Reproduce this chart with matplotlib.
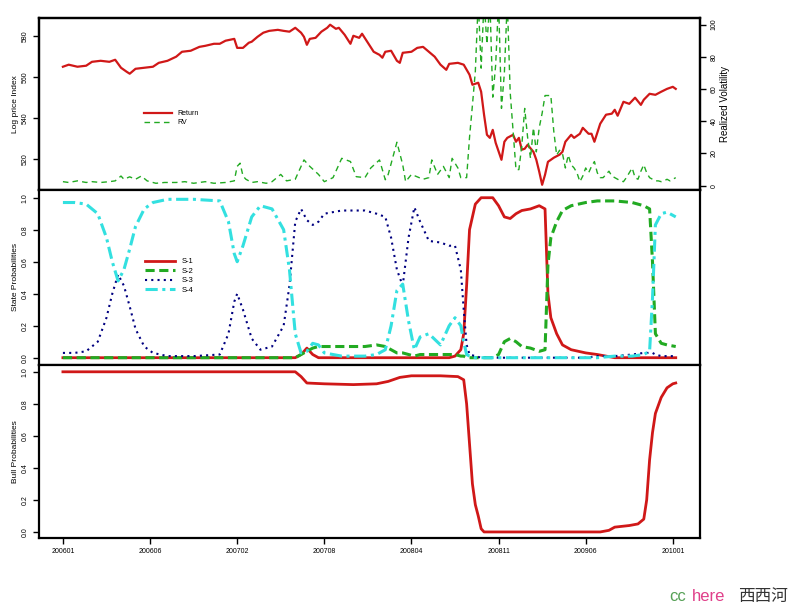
import numpy as np
import matplotlib.pyplot as plt

plt.rcParams['font.family'] = ['Liberation Sans', 'DejaVu Sans']

## DATA (weekly index, 200601 .. 201001)
ret_wk = [0, 2, 5, 8, 10, 13, 16, 18, 20, 22, 23, 25, 28, 31, 33, 36, 39, 41, 44, 47,
          49, 52, 54, 56, 59, 60, 62, 64, 65, 67, 69, 71, 74, 76, 78, 80, 82, 83, 84, 85,
          87, 89, 91, 92, 94, 95, 97, 99, 100, 102, 103, 105, 107, 109, 110, 111, 113, 115, 116, 117,
          120, 122, 124, 126, 128, 130, 132, 133, 136, 138, 140, 141, 143, 144, 145, 146, 147, 148, 149, 151,
          152, 153, 155, 156, 157, 158, 159, 160, 162, 163, 164, 165, 166, 167, 169, 171, 172, 173, 175, 176,
          178, 179, 181, 182, 183, 185, 187, 189, 190, 191, 193, 195, 197, 199, 200, 202, 204, 206, 208, 210, 211]
ret_val = [564.9, 565.9, 564.9, 565.4, 567.3, 567.8, 567.3, 568.3, 564.4, 562.4, 561.5, 563.9, 564.4, 564.9, 566.8, 567.8, 569.8, 572.2, 572.7, 574.6,
           575.1, 576.1, 576.1, 577.6, 578.5, 574.1, 574.1, 576.6, 577.1, 579.5, 581.5, 582.4, 582.9, 582.4, 582.0, 583.9, 581.5, 579.5, 575.6, 578.5,
           579.0, 582.0, 583.9, 585.4, 583.4, 583.9, 580.5, 576.1, 580.0, 579.0, 581.0, 576.6, 572.2, 570.7, 569.3, 572.2, 572.7, 567.8, 566.8, 571.7,
           572.2, 574.1, 574.6, 572.2, 569.8, 565.9, 563.4, 566.3, 566.8, 565.9, 561.0, 556.1, 557.1, 552.7, 541.5, 531.7, 530.2, 534.1, 527.8, 519.5,
           528.3, 530.2, 531.7, 528.3, 530.2, 524.4, 524.9, 526.8, 523.4, 519.5, 513.7, 507.3, 512.2, 518.5, 520.5, 522.0, 523.4, 528.3, 531.7, 530.2,
           532.2, 535.1, 532.2, 532.2, 528.3, 537.1, 541.5, 542.0, 543.9, 541.0, 547.8, 546.8, 549.8, 546.3, 548.8, 551.7, 551.2, 552.7, 554.1, 555.1, 554.1]

rv_wk = [0, 2, 5, 8, 10, 13, 16, 18, 20, 21, 23, 25, 27, 29, 32, 35, 39, 42, 45, 49,
         52, 56, 59, 60, 61, 62, 63, 65, 67, 70, 72, 75, 77, 80, 83, 85, 88, 90, 93, 96,
         99, 101, 104, 106, 109, 111, 112, 115, 117, 118, 120, 124, 126, 127, 129, 131, 133, 134, 136, 137,
         139, 140, 141, 142, 143, 144, 145, 146, 147, 148, 149, 150, 151, 152, 153, 154, 155, 156, 157, 158,
         159, 160, 161, 162, 163, 164, 165, 166, 167, 168, 169, 170, 171, 172, 173, 174, 175, 176, 177, 178,
         179, 180, 181, 182, 183, 184, 185, 186, 187, 188, 189, 190, 191, 192, 193, 194, 195, 196, 197, 198,
         199, 200, 201, 202, 203, 204, 205, 206, 207, 208, 209, 210, 211]
rv_val = [2.5, 2, 3, 2, 2.5, 2, 2.5, 3, 6, 4, 5.5, 4, 6, 3, 1.5, 2, 2, 2.5, 1.5, 2.5,
          1.5, 2, 3, 12, 14, 6, 4, 2, 2.5, 1.5, 2.5, 7, 3, 4, 16, 12, 7, 2.5, 5, 17,
          15, 5.6, 5, 11, 16, 3.7, 7, 27, 13, 2.5, 7, 4, 5, 16, 7, 12, 5, 17, 11, 5,
          5, 30, 50, 71, 115, 73, 115, 88, 115, 55, 75, 115, 48, 70, 115, 58, 34, 10, 10, 25,
          48, 30, 17, 36, 21, 36, 45, 56, 56, 56, 34, 19, 22, 20, 11, 19, 13, 11, 8, 2.5,
          6, 11, 8, 12, 15, 8, 5, 5, 7, 9, 6, 5, 4, 3, 2.5, 5, 8, 11, 5, 4,
          9, 13, 8, 5, 4, 3, 3, 2.5, 3, 4, 3, 4, 5]

st_wk = [0, 4, 8, 12, 15, 17, 19, 21, 23, 25, 28, 31, 36, 45, 54, 57, 59, 60, 62, 65,
         68, 72, 76, 78, 80, 82, 84, 86, 88, 90, 96, 104, 108, 111, 113, 115, 117, 119, 121, 123,
         126, 130, 133, 135, 137, 138, 139, 140, 142, 144, 148, 150, 152, 154, 156, 158, 161, 164, 166, 167,
         168, 170, 172, 175, 180, 184, 190, 196, 200, 202, 203, 204, 206, 208, 211]
s1 = [0, 0, 0, 0, 0, 0, 0, 0, 0, 0, 0, 0, 0, 0, 0, 0, 0, 0, 0, 0,
      0, 0, 0, 0, 0, 0.02, 0.06, 0.02, 0, 0, 0, 0, 0, 0, 0, 0, 0, 0, 0, 0,
      0, 0, 0, 0.01, 0.05, 0.15, 0.45, 0.80, 0.96, 1.0, 1.0, 0.95, 0.88, 0.87, 0.90, 0.92, 0.93, 0.95, 0.93, 0.40,
      0.25, 0.15, 0.08, 0.05, 0.03, 0.02, 0, 0, 0, 0, 0, 0, 0, 0, 0]
s2 = [0, 0, 0, 0, 0, 0, 0, 0, 0, 0, 0, 0, 0, 0, 0, 0, 0, 0, 0, 0,
      0, 0, 0, 0, 0, 0.02, 0.04, 0.06, 0.07, 0.07, 0.07, 0.07, 0.08, 0.07, 0.05, 0.03, 0.03, 0.02, 0.01, 0.02,
      0.02, 0.02, 0.02, 0.02, 0.01, 0.01, 0, 0, 0, 0, 0, 0.02, 0.10, 0.12, 0.10, 0.07, 0.06, 0.04, 0.05, 0.58,
      0.75, 0.85, 0.92, 0.95, 0.97, 0.98, 0.98, 0.97, 0.95, 0.93, 0.60, 0.15, 0.09, 0.08, 0.07]
s3 = [0.03, 0.03, 0.04, 0.10, 0.25, 0.40, 0.52, 0.45, 0.32, 0.18, 0.07, 0.03, 0.01, 0.01, 0.02, 0.15, 0.35, 0.40, 0.30, 0.12,
      0.05, 0.07, 0.20, 0.45, 0.85, 0.93, 0.86, 0.83, 0.85, 0.90, 0.92, 0.92, 0.90, 0.88, 0.75, 0.55, 0.45, 0.75, 0.94, 0.85,
      0.73, 0.72, 0.70, 0.70, 0.55, 0.30, 0.08, 0.02, 0.01, 0, 0, 0, 0, 0, 0, 0, 0, 0, 0, 0,
      0, 0, 0, 0, 0, 0.01, 0.01, 0.02, 0.03, 0.03, 0.03, 0.02, 0.01, 0.01, 0.01]
s4 = [0.97, 0.97, 0.96, 0.90, 0.75, 0.60, 0.48, 0.55, 0.68, 0.82, 0.93, 0.97, 0.99, 0.99, 0.98, 0.85, 0.65, 0.60, 0.70, 0.88,
      0.95, 0.93, 0.80, 0.55, 0.15, 0.03, 0.04, 0.09, 0.08, 0.03, 0.01, 0.01, 0.02, 0.05, 0.20, 0.42, 0.46, 0.23, 0.05, 0.13,
      0.15, 0.08, 0.20, 0.25, 0.20, 0.10, 0.02, 0.01, 0, 0, 0, 0, 0, 0, 0, 0, 0, 0, 0, 0,
      0, 0, 0, 0, 0, 0, 0.01, 0.01, 0.02, 0.04, 0.37, 0.83, 0.90, 0.91, 0.88]

bull_wk = [0, 80, 82, 84, 90, 100, 108, 112, 116, 120, 130, 136, 138, 139, 140, 141, 142, 143, 144, 145,
           170, 185, 188, 190, 195, 198, 200, 201, 202, 203, 204, 206, 208, 210, 211]
bull_val = [1.0, 1.0, 0.97, 0.93, 0.925, 0.92, 0.925, 0.94, 0.965, 0.975, 0.975, 0.97, 0.95, 0.8, 0.55, 0.3, 0.17, 0.1, 0.02, 0.0,
            0.0, 0.0, 0.01, 0.03, 0.04, 0.05, 0.08, 0.2, 0.45, 0.62, 0.74, 0.84, 0.9, 0.925, 0.93]

tick_wk = [0, 30, 60, 90, 120, 150, 180, 210]
tick_lab = ["200601", "200606", "200702", "200708", "200804", "200811", "200906", "201001"]

RED = "#d01818"
GREEN = "#22aa22"
NAVY = "#000080"
CYAN = "#33e0e0"

def style(ax):
    for sp in ax.spines.values():
        sp.set_linewidth(1.6)
    ax.tick_params(direction="out", length=4, width=1, labelsize=5)
    for lab in ax.get_yticklabels():
        lab.set_rotation(90)
        lab.set_va("center")
    ax.set_xlim(-8.3, 219.4)

fig = plt.figure(figsize=(7.92, 6.12), dpi=100)

# panel 1: price + RV
ax1 = fig.add_axes([0.049, 0.690, 0.835, 0.281])
ax1b = ax1.twinx()
l1, = ax1.plot(ret_wk, ret_val, color=RED, lw=1.6)
l2, = ax1b.plot(rv_wk, rv_val, color=GREEN, lw=1.0, ls=(0, (4, 3)))
ax1.set_ylim(504.9, 588.8)
ax1.set_yticks([520, 540, 560, 580])
ax1b.set_ylim(-2.5, 104.3)
ax1b.set_yticks([0, 20, 40, 60, 80, 100])
ax1.set_xticks([])
ax1.set_ylabel("Log price Index", fontsize=6, labelpad=2)
ax1b.set_ylabel("Realized Volatility", fontsize=7, labelpad=2)
style(ax1)
style(ax1b)
ax1.legend([l1, l2], ["Return", "RV"], loc="upper left", bbox_to_anchor=(0.15, 0.5),
           frameon=False, fontsize=5, handlelength=4, labelspacing=0.3)

# panel 2: state probabilities
ax2 = fig.add_axes([0.049, 0.404, 0.835, 0.286])
h1, = ax2.plot(st_wk, s1, color=RED, lw=2)
h2, = ax2.plot(st_wk, s2, color=GREEN, lw=2.2, ls=(0, (3, 1.5)))
h3, = ax2.plot(st_wk, s3, color=NAVY, lw=1.5, ls=(0, (1, 2)))
h4, = ax2.plot(st_wk, s4, color=CYAN, lw=2.2, ls=(0, (4, 1.5, 1, 1.5)))
ax2.set_ylim(-0.044, 1.05)
ax2.set_yticks([0.0, 0.2, 0.4, 0.6, 0.8, 1.0])
ax2.set_yticklabels(["0.0", "0.2", "0.4", "0.6", "0.8", "1.0"])
ax2.set_xticks([])
ax2.set_ylabel("State Probabilities", fontsize=6, labelpad=2)
style(ax2)
ax2.legend([h1, h2, h3, h4], ["S-1", "S-2", "S-3", "S-4"], loc="upper left",
           bbox_to_anchor=(0.15, 0.65), frameon=False, fontsize=5.5,
           handlelength=4, labelspacing=0.3)

# panel 3: bull probabilities
ax3 = fig.add_axes([0.049, 0.121, 0.835, 0.283])
ax3.plot(bull_wk, bull_val, color=RED, lw=2)
ax3.set_ylim(-0.0375, 1.044)
ax3.set_yticks([0.0, 0.2, 0.4, 0.6, 0.8, 1.0])
ax3.set_yticklabels(["0.0", "0.2", "0.4", "0.6", "0.8", "1.0"])
ax3.set_xticks(tick_wk)
ax3.set_xticklabels(tick_lab)
ax3.set_ylabel("Bull Probabilities", fontsize=6, labelpad=2)
style(ax3)

# watermark
fig.text(0.845, 0.018, "cc", color="#55a055", fontsize=12)
fig.text(0.873, 0.018, "here", color="#e0408a", fontsize=12)
fig.text(0.932, 0.018, "西西河", color="#333333", fontsize=12,
         family=["Noto Sans CJK SC", "DejaVu Sans"])

fig.savefig("out.png", dpi=100)
